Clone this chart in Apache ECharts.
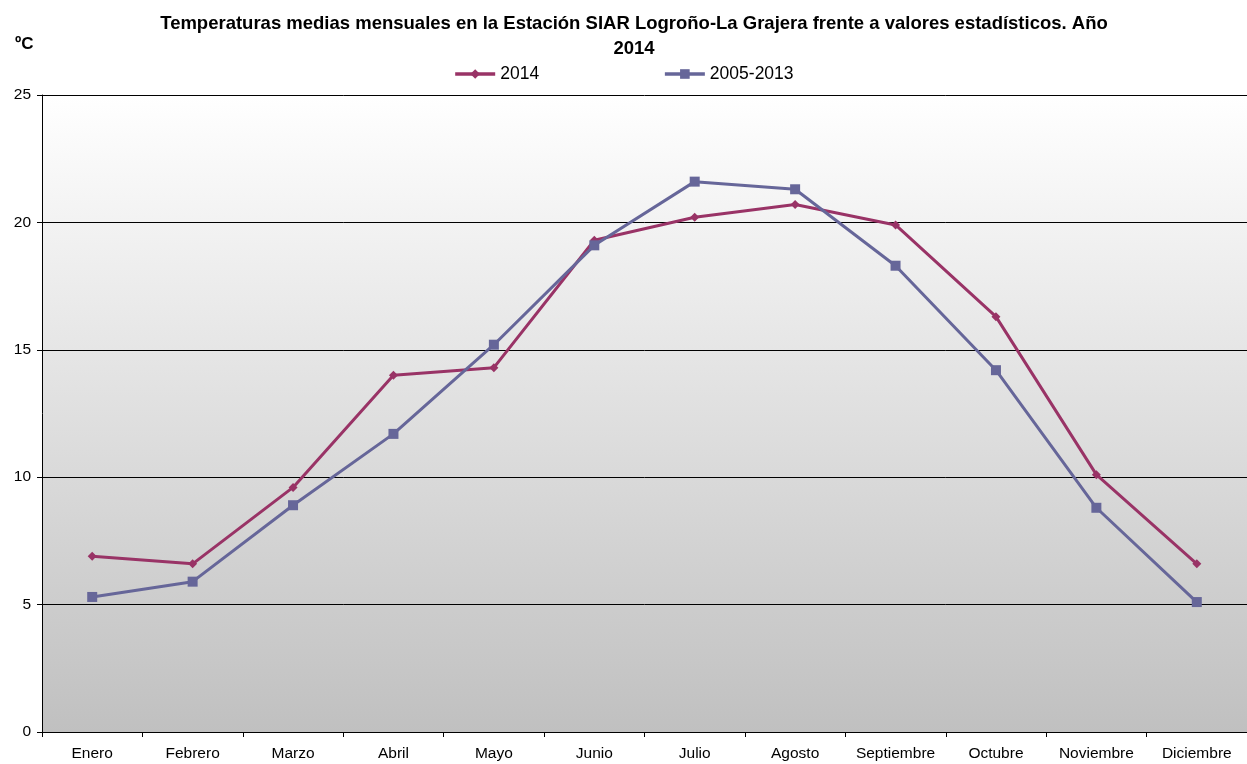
<!DOCTYPE html>
<html>
<head>
<meta charset="utf-8">
<script src="https://cdn.jsdelivr.net/npm/echarts@6/dist/echarts.min.js"></script>
<style>
  html, body { margin: 0; padding: 0; background: #fff; }
  #chart { width: 1247px; height: 764px; }
</style>
</head>
<body>
<div id="chart"></div>
<script>
// datos
const meses = ['Enero', 'Febrero', 'Marzo', 'Abril', 'Mayo', 'Junio', 'Julio', 'Agosto', 'Septiembre', 'Octubre', 'Noviembre', 'Diciembre']
const t2014 = [6.9, 6.6, 9.6, 14.0, 14.3, 19.3, 20.2, 20.7, 19.9, 16.3, 10.1, 6.6]
const tMedia = [5.3, 5.9, 8.9, 11.7, 15.2, 19.1, 21.6, 21.3, 18.3, 14.2, 8.8, 5.1]

const chart = echarts.init(document.getElementById('chart'))
const fuente = 'Liberation Sans, Arial, sans-serif'

chart.setOption({
  animation: false,
  textStyle: { fontFamily: fuente },
  title: [
    {
      text: 'Temperaturas medias mensuales en la Estación SIAR Logroño-La Grajera frente a valores estadísticos. Año\n2014',
      left: 629,
      textAlign: 'center',
      top: 6,
      textStyle: { fontSize: 18.5, fontWeight: 'bold', color: '#000', lineHeight: 25, fontFamily: fuente }
    },
    {
      text: 'ºC',
      left: 10,
      top: 31,
      textStyle: { fontSize: 17, fontWeight: 'bold', color: '#000', fontFamily: fuente }
    }
  ],
  legend: {
    top: 60,
    left: 'center',
    itemWidth: 40,
    itemHeight: 12,
    itemGap: 124,
    textStyle: { fontSize: 17.5, color: '#000', fontFamily: fuente },
    lineStyle: { width: 3.5 },
    data: ['2014', '2005-2013']
  },
  grid: {
    left: 42,
    right: 0,
    top: 95,
    bottom: 32,
    show: true,
    borderWidth: 0,
    backgroundColor: new echarts.graphic.LinearGradient(0, 0, 0, 1, [
      { offset: 0, color: '#ffffff' },
      { offset: 1, color: '#c0c0c0' }
    ])
  },
  xAxis: {
    type: 'category',
    data: meses,
    boundaryGap: true,
    axisLine: { lineStyle: { color: '#000', width: 1 } },
    axisTick: { show: true, length: 5, lineStyle: { color: '#000' } },
    axisLabel: { color: '#000', fontSize: 15.5, margin: 14, interval: 0 }
  },
  yAxis: {
    type: 'value',
    min: 0,
    max: 25,
    interval: 5,
    axisLine: { show: true, lineStyle: { color: '#000', width: 1 } },
    axisTick: { show: true, length: 5, lineStyle: { color: '#000' } },
    axisLabel: { color: '#000', fontSize: 15.5, margin: 11 },
    splitLine: { show: true, lineStyle: { color: '#000', width: 1 } }
  },
  series: [
    {
      name: '2014',
      type: 'line',
      data: t2014,
      symbol: 'diamond',
      symbolSize: 9,
      showAllSymbol: true,
      lineStyle: { color: '#993366', width: 3 },
      itemStyle: { color: '#993366' }
    },
    {
      name: '2005-2013',
      type: 'line',
      data: tMedia,
      symbol: 'rect',
      symbolSize: 10,
      showAllSymbol: true,
      lineStyle: { color: '#666699', width: 3 },
      itemStyle: { color: '#666699' }
    }
  ]
})
</script>
</body>
</html>
